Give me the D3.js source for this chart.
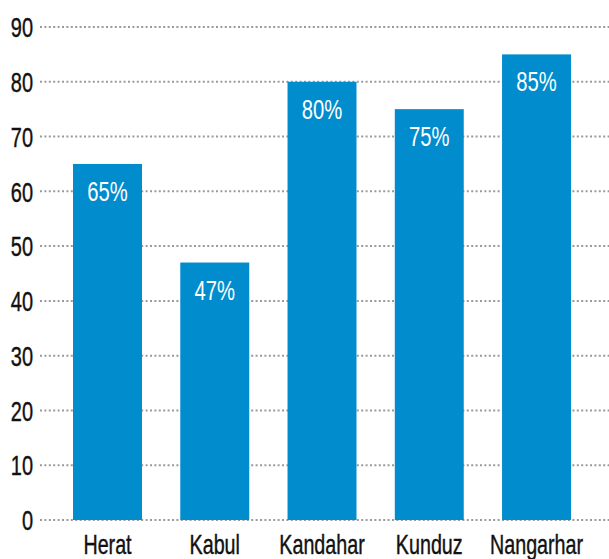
<!DOCTYPE html>
<html lang="en">
<head>
    <meta charset="UTF-8">
    <title>Bars</title>
    <style>
        body { margin: 0; background: #fff; }
        text { font-family: "Liberation Sans", Arial, sans-serif; }
    </style>
</head>
<body></body>
<script src="https://cdn.jsdelivr.net/npm/d3@7"></script>
<script>
    const provinces = ["Herat", "Kabul", "Kandahar", "Kunduz", "Nangarhar"];
    const shares = [65, 47, 80, 75, 85];
    const ticks = [0, 10, 20, 30, 40, 50, 60, 70, 80, 90];

    let width = 609;
    let height = 559;

    let svg = d3.select("body")
                .append("svg")
                .attr("width", width)
                .attr("height", height);

    const x = d3.scaleBand()
                .domain(provinces)
                .range([40, 609])
                .paddingInner(0.357)
                .paddingOuter(0.331)
                .align(0.465);

    const y = d3.scaleLinear()
                .domain([0, 90])
                .range([520, 27]);

    // dotted grid, behind the bars
    svg.append("g")
        .selectAll("line")
        .data(ticks)
        .enter()
        .append("line")
        .attr("x1", 40)
        .attr("x2", width)
        .attr("y1", d => y(d))
        .attr("y2", d => y(d))
        .style("stroke", "#9a9a9a")
        .style("stroke-width", 2)
        .style("stroke-dasharray", "2,2.4");

    // no condensed face installed, so squeeze Liberation Sans horizontally
    const yAxis = svg.append("g")
        .attr("transform", "translate(33,0)")
        .call(d3.axisLeft(y).tickValues(ticks).tickSize(0).tickPadding(0));
    yAxis.select(".domain").remove();
    yAxis.selectAll("text")
        .attr("x", 0)
        .attr("font-size", 27)
        .attr("fill", "#111")
        .attr("stroke", "#111")
        .attr("stroke-width", 0.4)
        .attr("dy", "0.36em")
        .attr("transform", "scale(0.74,1)");

    svg.selectAll("rect")
        .data(shares)
        .enter()
        .append("rect")
        .attr("x", (d, i) => x(provinces[i]))
        .attr("y", d => y(d))
        .attr("width", x.bandwidth())
        .attr("height", d => y(0) - y(d))
        .style("fill", "#008ccd");

    svg.selectAll(".val")
        .data(shares)
        .enter()
        .append("text")
        .attr("class", "val")
        .attr("transform", (d, i) =>
            `translate(${x(provinces[i]) + x.bandwidth() / 2},${y(d) + 37}) scale(0.75,1)`)
        .attr("text-anchor", "middle")
        .attr("font-size", 27)
        .attr("fill", "#fff")
        .text(d => d + "%");

    const xAxis = svg.append("g")
        .attr("transform", "translate(0,554)")
        .call(d3.axisBottom(x).tickSize(0).tickPadding(0));
    xAxis.select(".domain").remove();
    xAxis.selectAll("text")
        .attr("y", 0)
        .attr("dy", 0)
        .attr("font-size", 27)
        .attr("fill", "#111")
        .attr("stroke", "#111")
        .attr("stroke-width", 0.4)
        .attr("transform", "scale(0.73,1)");
</script>
</html>
